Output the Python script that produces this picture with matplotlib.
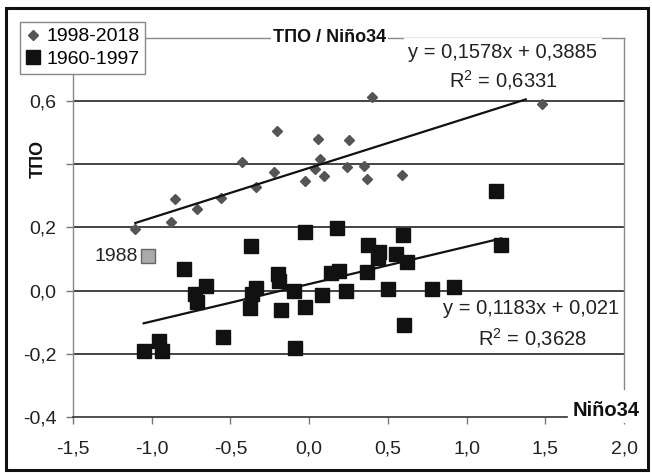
import matplotlib
matplotlib.use("Agg")
import matplotlib.pyplot as plt
from matplotlib.patches import Rectangle
from matplotlib.ticker import FuncFormatter
import numpy as np

plt.rcParams['font.family'] = ['Liberation Sans', 'DejaVu Sans']
plt.rcParams['mathtext.fontset'] = 'custom'
plt.rcParams['mathtext.rm'] = 'Liberation Sans'
plt.rcParams['axes.unicode_minus'] = False

# ---- data ----
x_1998_2018 = [-1.104, -0.877, -0.849, -0.715, -0.562, -0.429, -0.340, -0.223, -0.202,
               -0.028, 0.038, 0.059, 0.070, 0.096, 0.238, 0.255, 0.350, 0.367, 0.397,
               0.590, 1.478]
y_1998_2018 = [0.196, 0.217, 0.289, 0.259, 0.294, 0.408, 0.328, 0.376, 0.505,
               0.347, 0.386, 0.481, 0.416, 0.364, 0.392, 0.476, 0.394, 0.352, 0.614,
               0.367, 0.590]

x_1960_1997 = [-1.051, -0.955, -0.934, -0.792, -0.726, -0.715, -0.658, -0.546, -0.378,
               -0.372, -0.361, -0.340, -0.195, -0.191, -0.181, -0.096, -0.091, -0.025,
               -0.025, 0.081, 0.138, 0.180, 0.191, 0.234, 0.365, 0.376, 0.435, 0.446,
               0.499, 0.552, 0.599, 0.601, 0.620, 0.781, 0.917, 1.189, 1.221]
y_1960_1997 = [-0.190, -0.159, -0.190, 0.070, -0.011, -0.037, 0.016, -0.148, -0.056,
               0.141, -0.011, 0.008, 0.053, 0.032, -0.061, -0.002, -0.180, 0.187,
               -0.053, -0.013, 0.055, 0.199, 0.063, -0.002, 0.060, 0.146, 0.104, 0.122,
               0.005, 0.116, 0.175, -0.109, 0.090, 0.005, 0.013, 0.317, 0.146]

x_1988 = [-1.023]
y_1988 = [0.109]

# trend lines (slope, intercept, x-range)
trend1 = dict(slope=0.1578, intercept=0.3885, x=[-1.104, 1.376], r2="0,6331")
trend2 = dict(slope=0.1183, intercept=0.021, x=[-1.051, 1.221], r2="0,3628")

xticks = [-1.5, -1.0, -0.5, 0.0, 0.5, 1.0, 1.5, 2.0]
yticks = [-0.4, -0.2, 0.0, 0.2, 0.4, 0.6]
ygrid = [-0.2, 0.0, 0.2, 0.4, 0.6]
yhidden = [0.4]

# ---- figure ----
W, H = 652, 473
fig = plt.figure(figsize=(W / 100, H / 100), dpi=100)
fig.patch.set_facecolor('white')
fig.patches.append(Rectangle((6 / W, 3 / H), (648 - 6) / W, (470 - 8) / H,
                             transform=fig.transFigure, fill=False,
                             edgecolor='#111111', linewidth=2.2))

ax = fig.add_axes([73 / W, 1 - 417 / H, (624 - 73) / W, (417 - 38) / H])
ax.set_xlim(-1.5, 2.0)
ax.set_ylim(-0.4, 0.8)

for g in ygrid:
    ax.axhline(g, color='#111111', linewidth=1.1, zorder=1)

ax.plot(x_1998_2018, y_1998_2018, linestyle='none', marker='D', markersize=5,
        color='#555555', label='1998-2018', zorder=3)
ax.plot(x_1960_1997, y_1960_1997, linestyle='none', marker='s', markersize=9.5,
        color='#111111', label='1960-1997', zorder=3)
ax.plot(x_1988, y_1988, linestyle='none', marker='s', markersize=9.5,
        markerfacecolor='#aaaaaa', markeredgecolor='#666666', markeredgewidth=1, zorder=3)
ax.annotate('1988', (x_1988[0], y_1988[0]), xytext=(-7, 0), textcoords='offset points',
            ha='right', va='center', fontsize=14, color='#222222')

for t in (trend1, trend2):
    tx = np.array(t['x'])
    ax.plot(tx, t['slope'] * tx + t['intercept'], color='#111111', linewidth=1.6, zorder=4)

def fmt(v, pos):
    if any(abs(v - h) < 1e-9 for h in yhidden):
        return ''
    return f"{v:.1f}".replace('.', ',')

ax.set_xticks(xticks)
ax.set_yticks(yticks)
ax.xaxis.set_major_formatter(FuncFormatter(lambda v, p: f"{v:.1f}".replace('.', ',')))
ax.yaxis.set_major_formatter(FuncFormatter(fmt))
ax.tick_params(axis='both', direction='out', length=5, width=1, color='#777777',
               labelsize=14, labelcolor='#222222')
ax.tick_params(axis='y', pad=7)
ax.tick_params(axis='x', pad=12)

for s in ('left', 'right', 'top'):
    ax.spines[s].set_color('#888888')
    ax.spines[s].set_linewidth(1)
ax.spines['bottom'].set_color('#333333')
ax.spines['bottom'].set_linewidth(1.2)
ax.spines['bottom'].set_bounds(-1.5, 1.64)
ax.spines['right'].set_bounds(-0.31, 0.8)

# labels
ax.text(0.466, 1.0, 'ТПО / Niño34', transform=ax.transAxes, ha='center', va='center',
        fontsize=13, fontweight='bold', color='#111111', zorder=6,
        bbox=dict(boxstyle='square,pad=0.12', facecolor='white', edgecolor='none'))
fig.text(38 / W, 1 - 159 / H, 'ТПО', rotation=90, ha='center', va='center',
         fontsize=13, fontweight='bold', color='#111111')
fig.text(606 / W, 1 - 410 / H, 'Niño34', ha='center', va='center',
         fontsize=14.5, fontweight='bold', color='#111111', zorder=6,
         bbox=dict(boxstyle='square,pad=0.15', facecolor='white', edgecolor='none'))

def eqtext(t):
    s = f"{t['slope']}".replace('.', ',')
    i = f"{t['intercept']}".replace('.', ',')
    return f"y = {s}x + {i}", f"R$^2$ = {t['r2']}"

e1, r1 = eqtext(trend1)
e2, r2 = eqtext(trend2)
fig.text(503 / W, 1 - 52 / H, e1, ha='center', va='center', fontsize=14.5, color='#222222',
         zorder=6, bbox=dict(boxstyle='square,pad=0.22', facecolor='white', edgecolor='none'))
fig.text(503 / W, 1 - 80 / H, r1, ha='center', va='center', fontsize=14.5, color='#222222')
fig.text(531 / W, 1 - 309 / H, e2, ha='center', va='center', fontsize=14.5, color='#222222')
fig.text(532 / W, 1 - 338 / H, r2, ha='center', va='center', fontsize=14.5, color='#222222')

leg = ax.legend(loc='upper left', bbox_to_anchor=(20 / W, 1 - 22 / H),
                bbox_transform=fig.transFigure, frameon=True, fancybox=False,
                edgecolor='#888888', facecolor='white', framealpha=1, fontsize=14,
                handlelength=0.7, handletextpad=0.35, borderpad=0.3, labelspacing=0.25,
                borderaxespad=0)
leg.get_frame().set_linewidth(1)
leg.set_zorder(7)

fig.savefig('out.png', dpi=100)
